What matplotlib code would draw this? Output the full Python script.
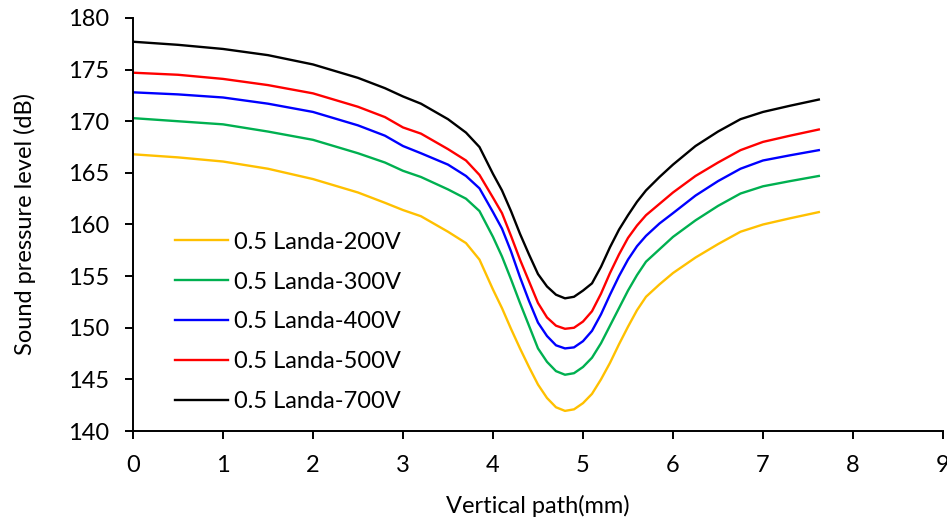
import matplotlib
matplotlib.use("Agg")
import matplotlib.pyplot as plt

# Vertical path positions (mm)
x = [0, 0.5, 1, 1.5, 2, 2.5, 2.8, 3.0, 3.2, 3.5, 3.7, 3.85, 4.0, 4.1, 4.2, 4.3, 4.4, 4.5, 4.6,
     4.7, 4.8, 4.9, 5.0, 5.1, 5.2, 5.3, 5.4, 5.5, 5.6, 5.7, 5.85, 6.0, 6.25, 6.5, 6.75, 7.0,
     7.3, 7.62]

# Sound pressure level (dB) for each voltage
spl_200 = [166.8, 166.5, 166.1, 165.4, 164.4, 163.1, 162.1, 161.4, 160.8, 159.3, 158.2, 156.6,
           153.7, 151.9, 149.9, 148.0, 146.2, 144.5, 143.2, 142.3, 141.95, 142.1, 142.7, 143.6,
           145.0, 146.6, 148.4, 150.1, 151.7, 153.0, 154.2, 155.3, 156.8, 158.1, 159.3, 160.0,
           160.6, 161.2]
spl_300 = [170.3, 170.0, 169.7, 169.0, 168.2, 166.9, 166.0, 165.2, 164.6, 163.4, 162.5, 161.3,
           158.8, 156.9, 154.7, 152.4, 150.2, 148.0, 146.7, 145.8, 145.45, 145.6, 146.2, 147.1,
           148.5, 150.2, 151.9, 153.6, 155.1, 156.4, 157.6, 158.8, 160.4, 161.8, 163.0, 163.7,
           164.2, 164.7]
spl_400 = [172.8, 172.6, 172.3, 171.7, 170.9, 169.6, 168.6, 167.6, 166.9, 165.8, 164.7, 163.5,
           161.2, 159.6, 157.4, 154.9, 152.6, 150.5, 149.2, 148.3, 148.0, 148.1, 148.7, 149.7,
           151.3, 153.2, 155.0, 156.6, 157.9, 158.9, 160.1, 161.1, 162.8, 164.2, 165.4, 166.2,
           166.7, 167.2]
spl_500 = [174.7, 174.5, 174.1, 173.5, 172.7, 171.4, 170.4, 169.4, 168.8, 167.3, 166.2, 164.8,
           162.6, 161.1, 158.9, 156.6, 154.5, 152.4, 151.0, 150.2, 149.9, 150.0, 150.6, 151.6,
           153.3, 155.3, 157.1, 158.7, 159.9, 160.9, 162.0, 163.1, 164.7, 166.0, 167.2, 168.0,
           168.6, 169.2]
spl_700 = [177.7, 177.4, 177.0, 176.4, 175.5, 174.2, 173.2, 172.4, 171.7, 170.2, 168.9, 167.5,
           164.9, 163.3, 161.3, 159.1, 157.1, 155.2, 154.0, 153.2, 152.85, 153.0, 153.6, 154.3,
           155.9, 157.8, 159.5, 160.9, 162.2, 163.3, 164.6, 165.8, 167.6, 169.0, 170.2, 170.9,
           171.5, 172.1]

labels = ["0.5 Landa-200V", "0.5 Landa-300V", "0.5 Landa-400V", "0.5 Landa-500V", "0.5 Landa-700V"]
colors = ["#FFC000", "#00B050", "#0000FF", "#FF0000", "#000000"]

plt.rcParams['font.family'] = ['Lato', 'DejaVu Sans']

fig = plt.figure(figsize=(9.47, 5.21), dpi=100)
ax = fig.add_axes([0.1404, 0.1727, 0.8554, 0.7928])

for y, lab, c in zip([spl_200, spl_300, spl_400, spl_500, spl_700], labels, colors):
    ax.plot(x, y, color=c, linewidth=1.7, label=lab, solid_joinstyle='round')

ax.set_xlim(0, 9)
ax.set_ylim(140, 180)
ax.set_xticks(range(0, 10))
ax.set_yticks(range(140, 181, 5))

ax.spines['top'].set_visible(False)
ax.spines['right'].set_visible(False)
ax.spines['left'].set_linewidth(1.4)
ax.spines['bottom'].set_linewidth(1.4)
ax.tick_params(direction='out', length=6, width=1.4, labelsize=17, pad=11)

ax.set_xlabel("Vertical path(mm)", fontsize=17, labelpad=14)
ax.set_ylabel("Sound pressure level (dB)", fontsize=17, labelpad=23)

ax.legend(loc='upper left', bbox_to_anchor=(0.0254, 0.534), frameon=False, fontsize=17,
          handlelength=2.25, handletextpad=0.25, labelspacing=0.8)

fig.savefig("out.png", dpi=100)
